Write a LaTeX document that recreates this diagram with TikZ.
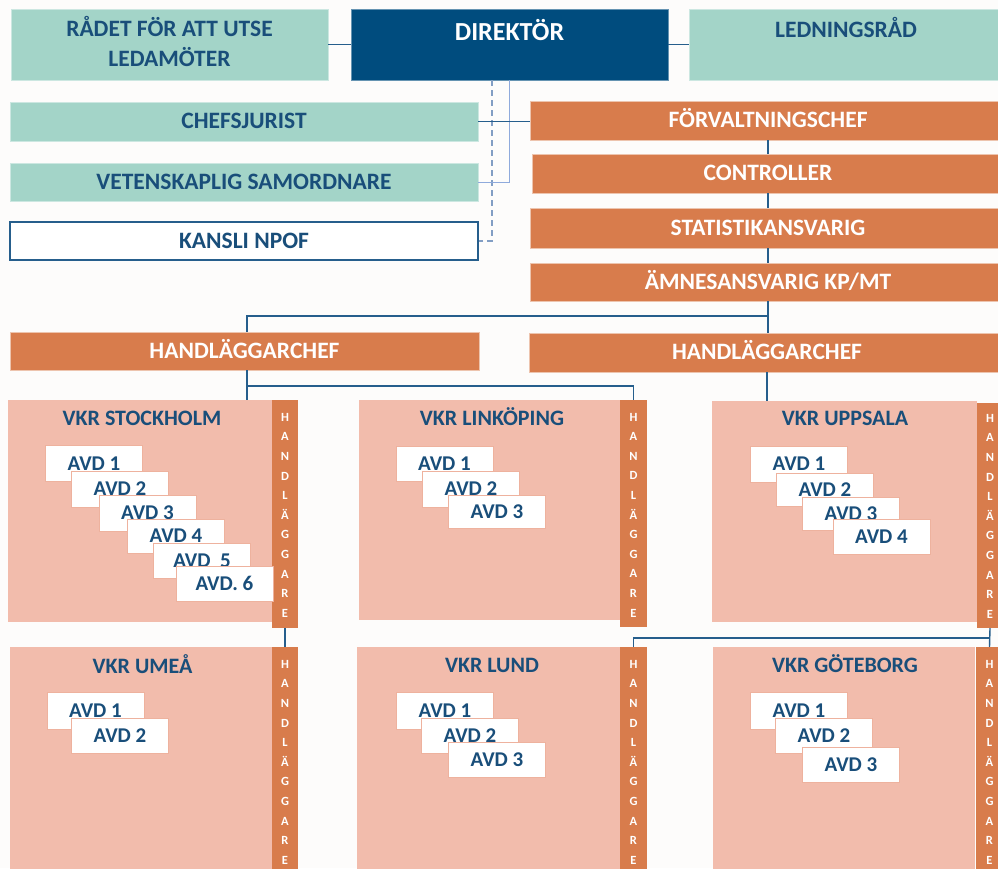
\documentclass[tikz,border=0pt]{standalone}
\usepackage{fontspec}
\setmainfont{Carlito}
\usetikzlibrary{fit}
\definecolor{teal1}{RGB}{163,212,200}
\definecolor{navy}{RGB}{0,76,126}
\definecolor{txtblue}{RGB}{25,78,122}
\definecolor{orng}{RGB}{216,124,76}
\definecolor{salmon}{RGB}{242,188,172}
\definecolor{lnblue}{RGB}{38,94,140}
\definecolor{ltblue}{RGB}{143,170,220}
\definecolor{dshblue}{RGB}{130,158,196}
\definecolor{bgc}{RGB}{253,252,251}
\newcommand\handlTxt{H\\A\\N\\D\\L\\Ä\\G\\G\\A\\R\\E}
\tikzset{
  big/.style={font=\bfseries\fontsize{23.5}{29.4}\selectfont, inner sep=0pt},
  capc/.style={text height=14.9pt, text depth=0pt},
  tealbox/.style={fill=teal1, draw=teal1!55!white, line width=0.6pt, inner sep=0pt, big, capc, text=txtblue},
  orbox/.style={fill=orng, draw=orng!45!white, line width=0.6pt, inner sep=0pt, big, capc, text=white},
  navybox/.style={fill=navy, draw=navy!60!white, line width=0.6pt, inner sep=0pt},
  kbox/.style={fill=white, draw=lnblue, line width=1.2pt, inner sep=0pt, big, capc, text=txtblue},
  vkrbox/.style={fill=salmon, draw=none, inner sep=0pt},
  vkrtitle/.style={font=\bfseries\fontsize{22}{26}\selectfont, text height=13.9pt, text depth=0pt, inner sep=0pt, text=txtblue},
  avd/.style={fill=white, draw=salmon!85!orng, line width=0.5pt, inner sep=0pt, minimum width=97pt, minimum height=36pt, font=\bfseries\fontsize{21}{25}\selectfont, text height=13.3pt, text depth=0pt, text=txtblue},
  hbar/.style={fill=orng, draw=none, inner sep=0pt},
  hletters/.style={font=\bfseries\fontsize{12.5}{19.6}\selectfont, align=center, text=white, inner sep=0pt, anchor=north},
  conn/.style={draw=lnblue, line width=1.4pt},
  lightline/.style={draw=ltblue, line width=1.4pt},
  dashline/.style={draw=dshblue, line width=1.4pt, dash pattern=on 6pt off 4pt},
}
\begin{document}
\begin{tikzpicture}[x=1pt,y=-1pt]
\fill[bgc] (0,0) rectangle (998,868);
\useasboundingbox (0,0) rectangle (998,868);

% ---- top row
\node[tealbox, minimum width=317pt, minimum height=71pt] (rad) at (169.5,44.5) {};
\node[big, text=txtblue, align=center, anchor=south] (radt) at (169.5,66.7) {RÅDET FÖR ATT UTSE\\LEDAMÖTER};
\node[navybox, minimum width=317pt, minimum height=71pt] (dir) at (509.5,44.5) {};
\node[font=\bfseries\fontsize{26}{30}\selectfont, text height=16.4pt, text depth=0pt, inner sep=0pt, text=white] (dirt) at (509.5,32) {DIREKTÖR};
\node[tealbox, minimum width=314pt, minimum height=71pt] (led) at (846,44.5) {};
\node[big, capc, text=txtblue] (ledt) at (846,30) {LEDNINGSRÅD};

% ---- left staff column
\node[tealbox, minimum width=468pt, minimum height=39pt] (chef) at (244,121.5) {CHEFSJURIST};
\node[tealbox, minimum width=468pt, minimum height=38pt] (vet) at (244,182.5) {VETENSKAPLIG SAMORDNARE};
\node[kbox, minimum width=468pt, minimum height=38pt] (kansli) at (244,241) {KANSLI NPOF};

% ---- right orange column
\node[orbox, minimum width=476pt, minimum height=39pt] (forv) at (768,120.5) {FÖRVALTNINGSCHEF};
\node[orbox, minimum width=472pt, minimum height=39pt] (ctrl) at (768,173.5) {CONTROLLER};
\node[orbox, minimum width=476pt, minimum height=40pt] (stat) at (768,228) {STATISTIKANSVARIG};
\node[orbox, minimum width=476pt, minimum height=38pt] (amne) at (768,282) {ÄMNESANSVARIG KP/MT};

% ---- handläggarchefer
\node[orbox, minimum width=469pt, minimum height=38pt] (hcL) at (244.5,351) {HANDLÄGGARCHEF};
\node[orbox, minimum width=476pt, minimum height=39pt] (hcR) at (767,352.5) {HANDLÄGGARCHEF};

% ---- VKR row 1
\node[vkrbox, fit={(8,400) (272,622)}] (stk) {};
\node[hbar, fit={(272,400) (298,628)}] (stkbar) {};
\node[hletters] (stkL) at (285,413) {\handlTxt};
\node[vkrtitle] (stkt) at (142,419) {VKR STOCKHOLM};
\node[avd] (s1) at (94,463.5) {AVD 1};
\node[avd] (s2) at (120,489) {AVD 2};
\node[avd] (s3) at (147.5,513) {AVD 3};
\node[avd, minimum height=34pt] (s4) at (176,536) {AVD 4};
\node[avd, minimum height=35pt] (s5) at (202,560.5) {AVD\ \ 5};
\node[avd, minimum height=35pt] (s6) at (224.5,583.5) {AVD. 6};

\node[vkrbox, fit={(359,400) (620,620)}] (lin) {};
\node[hbar, fit={(620,400) (647,627)}] (linbar) {};
\node[hletters] (linL) at (633.5,412.7) {\handlTxt};
\node[vkrtitle] (lint) at (492,419) {VKR LINKÖPING};
\node[avd, minimum height=35pt] (l1) at (444.5,463.5) {AVD 1};
\node[avd] (l2) at (471,489) {AVD 2};
\node[avd, minimum height=33pt] (l3) at (497,511.5) {AVD 3};

\node[vkrbox, fit={(712,401) (977,622)}] (ups) {};
\node[hbar, fit={(977,403) (1003,628)}] (upsbar) {};
\node[hletters] (upsL) at (990,414) {\handlTxt};
\node[vkrtitle] (upst) at (845,419) {VKR UPPSALA};
\node[avd] (u1) at (799,464) {AVD 1};
\node[avd, minimum height=33pt] (u2) at (825,489.5) {AVD 2};
\node[avd, minimum height=33pt] (u3) at (851,513.5) {AVD 3};
\node[avd, minimum height=35pt] (u4) at (881.5,536.5) {AVD 4};

% ---- VKR row 2
\node[vkrbox, fit={(10,647) (272,880)}] (ume) {};
\node[hbar, fit={(272,647) (298,880)}] (umebar) {};
\node[hletters] (umeL) at (285,660) {\handlTxt};
\node[vkrtitle] (umet) at (142.5,666.5) {VKR UMEÅ};
\node[avd, minimum height=37pt] (m1) at (95.5,710.5) {AVD 1};
\node[avd, minimum height=35pt] (m2) at (120,735.5) {AVD 2};

\node[vkrbox, fit={(357,647) (620,880)}] (lund) {};
\node[hbar, fit={(620,647) (647,880)}] (lundbar) {};
\node[hletters] (lundL) at (633.5,660) {\handlTxt};
\node[vkrtitle] (lundt) at (492,666) {VKR LUND};
\node[avd, minimum height=37pt] (d1) at (445,710.5) {AVD 1};
\node[avd, minimum height=35pt] (d2) at (470,735.5) {AVD 2};
\node[avd, minimum height=35pt] (d3) at (497,759.5) {AVD 3};

\node[vkrbox, fit={(713,647) (975,880)}] (got) {};
\node[hbar, fit={(976,647) (1003,880)}] (gotbar) {};
\node[hletters] (gotL) at (989.5,660) {\handlTxt};
\node[vkrtitle] (gott) at (845,666) {VKR GÖTEBORG};
\node[avd, minimum height=37pt] (g1) at (799,710.5) {AVD 1};
\node[avd, minimum height=35pt] (g2) at (824,735.5) {AVD 2};
\node[avd, minimum height=35pt] (g3) at (851,764.5) {AVD 3};

% ---- connectors
\draw[conn] (rad.east) -- (dir.west);
\draw[conn] (dir.east) -- (led.west);
\coordinate (dsh) at (492,80);
\draw[dashline] (dsh) |- (kansli.east);
\draw[lightline] (dir.south) |- (vet.east);
\draw[conn] (chef.east) -- (chef.east -| forv.west);
\draw[conn] (forv.south) -- (ctrl.north);
\draw[conn] (ctrl.south) -- (stat.north);
\draw[conn] (stat.south) -- (amne.north);
\coordinate (j1) at (768,316);
\coordinate (j1L) at (247,316);
\draw[conn] (amne.south) -- (j1) -- (j1L) -- (j1L |- hcL.north);
\draw[conn] (j1) -- (j1 |- hcR.north);
\coordinate (j2) at (247,386);
\draw[conn] (j1L |- hcL.south) -- (j1L |- stk.north);
\draw[conn] (j2) -| (linbar.north);
\draw[conn] (hcR.south) -- (hcR.south |- ups.north);
\draw[conn] (stkbar.south) -- (umebar.north);
\coordinate (j3) at (989.5,638);
\draw[conn] (upsbar.south) -- (gotbar.north);
\draw[conn] (j3) -| (lundbar.north);
\end{tikzpicture}
\end{document}
